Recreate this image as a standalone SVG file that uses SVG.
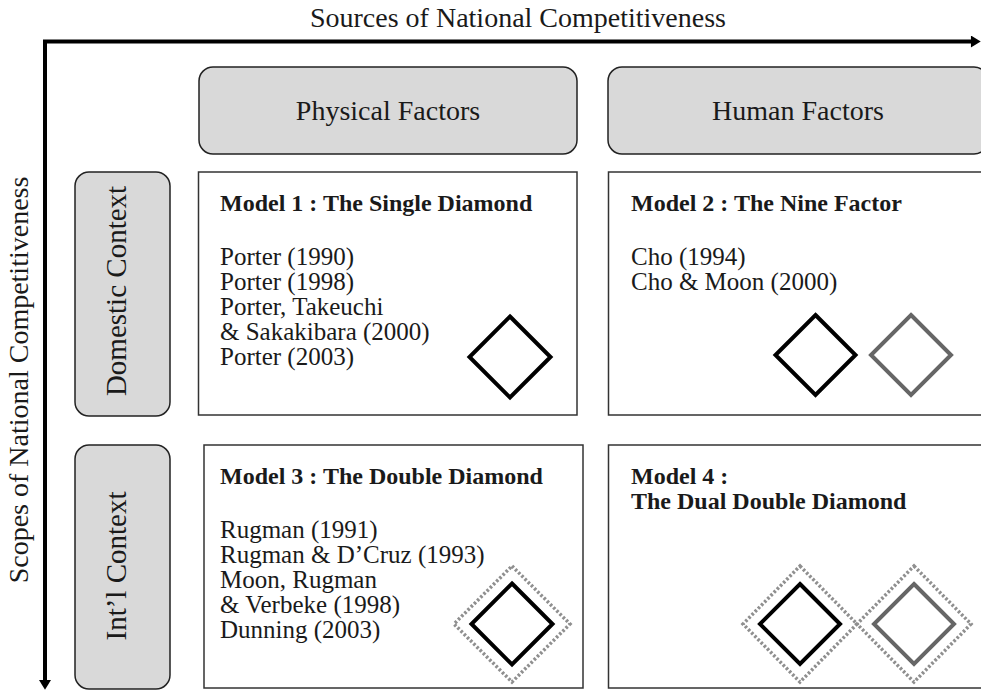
<svg xmlns="http://www.w3.org/2000/svg" width="981" height="690" viewBox="0 0 981 690">
<style>
text{font-family:"Liberation Serif","Times New Roman",serif;fill:#1a1a1a}
.hdr{font-size:28px}
.vhdr{font-size:29px}
.ttl{font-size:24px;font-weight:bold}
.body{font-size:25px}
.cat{fill:#d9d9d9;stroke:#222;stroke-width:1.5}
.model{fill:#fff;stroke:#333;stroke-width:1.5}
.dk{fill:none;stroke:#000;stroke-width:4}
.gr{fill:none;stroke:#666;stroke-width:4}
.dot{fill:none;stroke:#8f8f8f;stroke-width:3.5;stroke-dasharray:2.5 2}
.axis{fill:none;stroke:#000;stroke-width:4}
</style>
<defs>
<marker id="ah" markerUnits="userSpaceOnUse" markerWidth="12" markerHeight="12" viewBox="0 0 10 11" refX="1" refY="5.5" orient="auto-start-reverse">
<path d="M0,0 L9,5.5 L0,11 z" fill="#000"/>
</marker>
</defs>
<g id="connectors">
<path class="axis" d="M45,681 V41.5 H972" marker-start="url(#ah)" marker-end="url(#ah)"/>
</g>
<g id="axis-x-label"><text class="hdr" x="518" y="27" text-anchor="middle">Sources of National Competitiveness</text></g>
<g id="axis-y-label"><text class="hdr" transform="translate(28,380) rotate(-90)" text-anchor="middle">Scopes of National Competitiveness</text></g>
<g id="physical">
<rect class="cat" x="199" y="67" width="378" height="87" rx="14"/>
<text class="hdr" x="388" y="120" text-anchor="middle">Physical Factors</text>
</g>
<g id="human">
<rect class="cat" x="608" y="67" width="380" height="87" rx="14"/>
<text class="hdr" x="798" y="120" text-anchor="middle">Human Factors</text>
</g>
<g id="domestic">
<rect class="cat" x="75" y="172" width="95" height="244" rx="14"/>
<text class="vhdr" transform="translate(126,291) rotate(-90)" text-anchor="middle">Domestic Context</text>
</g>
<g id="intl">
<rect class="cat" x="75" y="445" width="95" height="244" rx="14"/>
<text class="vhdr" transform="translate(126,566) rotate(-90)" text-anchor="middle">Int’l Context</text>
</g>
<g id="model1">
<rect class="model" x="198.5" y="172" width="378.5" height="243"/>
<text class="ttl" x="220" y="211">Model 1 : The Single Diamond</text>
<text class="body" x="220" y="265">Porter (1990)</text>
<text class="body" x="220" y="290">Porter (1998)</text>
<text class="body" x="220" y="315">Porter, Takeuchi</text>
<text class="body" x="220" y="340">&amp; Sakakibara (2000)</text>
<text class="body" x="220" y="365">Porter (2003)</text>
<path class="dk" d="M510,316.5 L550.5,357 L510,397.5 L469.5,357 Z"/>
</g>
<g id="model2">
<rect class="model" x="608.5" y="172" width="380" height="243"/>
<text class="ttl" x="631" y="211">Model 2 : The Nine Factor</text>
<text class="body" x="631" y="265">Cho (1994)</text>
<text class="body" x="631" y="290">Cho &amp; Moon (2000)</text>
<path class="dk" d="M815.5,315 L855.5,355 L815.5,395 L775.5,355 Z"/>
<path class="gr" d="M911,315 L951,355 L911,395 L871,355 Z"/>
</g>
<g id="model3">
<rect class="model" x="204" y="445" width="379" height="243"/>
<text class="ttl" x="220" y="484">Model 3 : The Double Diamond</text>
<text class="body" x="220" y="538">Rugman (1991)</text>
<text class="body" x="220" y="563">Rugman &amp; D’Cruz (1993)</text>
<text class="body" x="220" y="588">Moon, Rugman</text>
<text class="body" x="220" y="613">&amp; Verbeke (1998)</text>
<text class="body" x="220" y="638">Dunning (2003)</text>
<path class="dot" d="M512,566 L570,624 L512,682 L454,624 Z"/>
<path class="dk" d="M512,583.5 L552.5,624 L512,664.5 L471.5,624 Z"/>
</g>
<g id="model4">
<rect class="model" x="608.5" y="445" width="380" height="243"/>
<text class="ttl" x="631" y="484">Model 4 :</text>
<text class="ttl" x="631" y="509">The Dual Double Diamond</text>
<path class="dot" d="M800,566 L857,624 L800,682 L743,624 Z"/>
<path class="dot" d="M914,566 L971,624 L914,682 L857,624 Z"/>
<path class="dk" d="M800,584 L840,624 L800,664 L760,624 Z"/>
<path class="gr" d="M914,584 L954,624 L914,664 L874,624 Z"/>
</g>
</svg>
